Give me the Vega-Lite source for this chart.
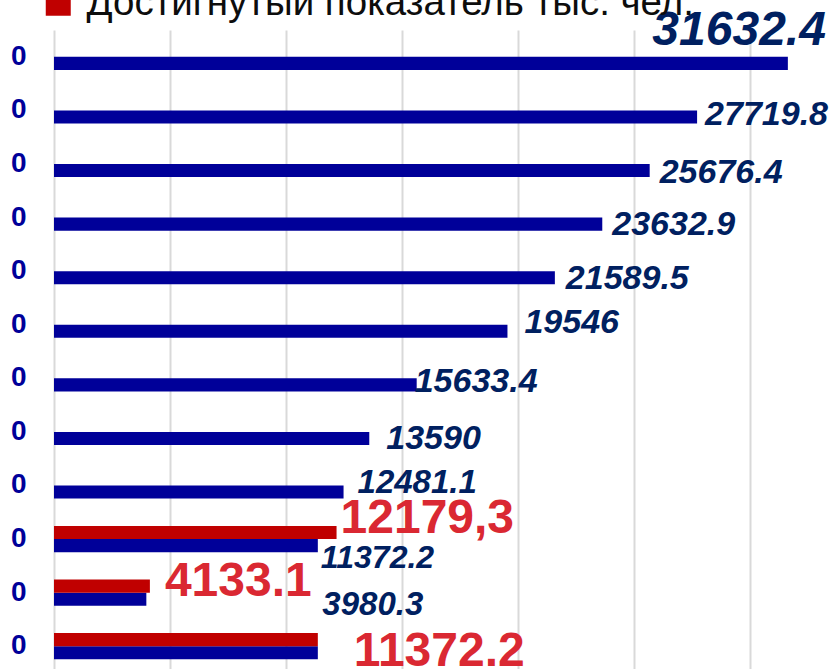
{
  "$schema": "https://vega.github.io/schema/vega-lite/v6.json",
  "autosize": {"type": "none"},
  "padding": {"left": 54, "top": 30, "right": 0, "bottom": 0},
  "width": 779,
  "height": 643,
  "background": "white",
  "config": {"view": {"stroke": null}},
  "data": {
    "values": [
      {"key": "b1", "row": 1, "series": "План", "value": 31632.4, "label": "31632.4"},
      {"key": "b2", "row": 2, "series": "План", "value": 27719.8, "label": "27719.8"},
      {"key": "b3", "row": 3, "series": "План", "value": 25676.4, "label": "25676.4"},
      {"key": "b4", "row": 4, "series": "План", "value": 23632.9, "label": "23632.9"},
      {"key": "b5", "row": 5, "series": "План", "value": 21589.5, "label": "21589.5"},
      {"key": "b6", "row": 6, "series": "План", "value": 19546, "label": "19546"},
      {"key": "b7", "row": 7, "series": "План", "value": 15633.4, "label": "15633.4"},
      {"key": "b8", "row": 8, "series": "План", "value": 13590, "label": "13590"},
      {"key": "b9", "row": 9, "series": "План", "value": 12481.1, "label": "12481.1"},
      {"key": "b10", "row": 10, "series": "План", "value": 11372.2, "label": "11372.2"},
      {"key": "b11", "row": 11, "series": "План", "value": 3980.3, "label": "3980.3"},
      {"key": "b12", "row": 12, "series": "План", "value": 11372.2, "label": "11372.2"},
      {"key": "r10", "row": 10, "series": "Достигнутый показатель тыс. чел.", "value": 12179.3, "label": "12179,3"},
      {"key": "r11", "row": 11, "series": "Достигнутый показатель тыс. чел.", "value": 4133.1, "label": "4133.1"},
      {"key": "r12", "row": 12, "series": "Достигнутый показатель тыс. чел.", "value": 11372.2, "label": "11372.2"}
    ]
  },
  "encoding": {
    "y": {
      "field": "row", "type": "ordinal",
      "scale": {"paddingInner": 0.509, "paddingOuter": 0.2545},
      "axis": {"title": null, "labelExpr": "'0'", "ticks": false, "domain": false, "grid": false,
               "labelFont": "Liberation Sans", "labelFontWeight": "bold", "labelFontSize": 28,
               "labelColor": "#000099", "labelPadding": 28}
    },
    "yOffset": {
      "field": "series", "type": "nominal",
      "scale": {"domain": ["Достигнутый показатель тыс. чел.", "План"], "paddingInner": 0}
    }
  },
  "layer": [
    {
      "mark": {"type": "bar"},
      "encoding": {
        "x": {
          "field": "value", "type": "quantitative",
          "scale": {"domain": [0, 33578], "nice": false, "zero": true},
          "axis": {"title": null, "labels": false, "ticks": false, "domain": false, "grid": true,
                   "values": [0, 5000, 10000, 15000, 20000, 25000, 30000],
                   "gridColor": "#d9d9d9", "gridWidth": 2}
        },
        "color": {
          "field": "series", "type": "nominal",
          "scale": {"domain": ["Достигнутый показатель тыс. чел.", "План"], "range": ["#C00000", "#000099"]},
          "legend": {
            "title": null, "orient": "none", "legendX": -15, "legendY": -46,
            "values": ["Достигнутый показатель тыс. чел."],
            "symbolType": "square", "symbolSize": 625, "symbolStrokeWidth": 0,
            "labelFont": "Liberation Sans", "labelFontSize": 38.5, "labelColor": "#0D0D0D",
            "labelOffset": 9, "labelLimit": 1000, "padding": 0
          }
        }
      }
    },
    {
      "transform": [{"filter": "datum.key == 'b1'"}],
      "mark": {"type": "text", "align": "right", "baseline": "middle", "dx": 38, "dy": -32, "fontSize": 48, "fontWeight": "bold", "fontStyle": "italic", "color": "#002060", "font": "Liberation Sans"},
      "encoding": {"x": {"field": "value", "type": "quantitative"}, "text": {"field": "label"}}
    },
    {
      "transform": [{"filter": "datum.key == 'b2'"}],
      "mark": {"type": "text", "align": "left", "baseline": "middle", "dx": 8, "dy": -2, "fontSize": 34, "fontWeight": "bold", "fontStyle": "italic", "color": "#002060", "font": "Liberation Sans"},
      "encoding": {"x": {"field": "value", "type": "quantitative"}, "text": {"field": "label"}}
    },
    {
      "transform": [{"filter": "datum.key == 'b3'"}],
      "mark": {"type": "text", "align": "left", "baseline": "middle", "dx": 10, "dy": 2, "fontSize": 34, "fontWeight": "bold", "fontStyle": "italic", "color": "#002060", "font": "Liberation Sans"},
      "encoding": {"x": {"field": "value", "type": "quantitative"}, "text": {"field": "label"}}
    },
    {
      "transform": [{"filter": "datum.key == 'b4'"}],
      "mark": {"type": "text", "align": "left", "baseline": "middle", "dx": 10, "dy": 1, "fontSize": 34, "fontWeight": "bold", "fontStyle": "italic", "color": "#002060", "font": "Liberation Sans"},
      "encoding": {"x": {"field": "value", "type": "quantitative"}, "text": {"field": "label"}}
    },
    {
      "transform": [{"filter": "datum.key == 'b5'"}],
      "mark": {"type": "text", "align": "left", "baseline": "middle", "dx": 11, "dy": 1, "fontSize": 34, "fontWeight": "bold", "fontStyle": "italic", "color": "#002060", "font": "Liberation Sans"},
      "encoding": {"x": {"field": "value", "type": "quantitative"}, "text": {"field": "label"}}
    },
    {
      "transform": [{"filter": "datum.key == 'b6'"}],
      "mark": {"type": "text", "align": "left", "baseline": "middle", "dx": 17, "dy": -8, "fontSize": 34, "fontWeight": "bold", "fontStyle": "italic", "color": "#002060", "font": "Liberation Sans"},
      "encoding": {"x": {"field": "value", "type": "quantitative"}, "text": {"field": "label"}}
    },
    {
      "transform": [{"filter": "datum.key == 'b7'"}],
      "mark": {"type": "text", "align": "left", "baseline": "middle", "dx": -2, "dy": -3, "fontSize": 34, "fontWeight": "bold", "fontStyle": "italic", "color": "#002060", "font": "Liberation Sans"},
      "encoding": {"x": {"field": "value", "type": "quantitative"}, "text": {"field": "label"}}
    },
    {
      "transform": [{"filter": "datum.key == 'b8'"}],
      "mark": {"type": "text", "align": "left", "baseline": "middle", "dx": 17, "dy": 1, "fontSize": 34, "fontWeight": "bold", "fontStyle": "italic", "color": "#002060", "font": "Liberation Sans"},
      "encoding": {"x": {"field": "value", "type": "quantitative"}, "text": {"field": "label"}}
    },
    {
      "transform": [{"filter": "datum.key == 'b9'"}],
      "mark": {"type": "text", "align": "left", "baseline": "middle", "dx": 14, "dy": -9, "fontSize": 33, "fontWeight": "bold", "fontStyle": "italic", "color": "#002060", "font": "Liberation Sans"},
      "encoding": {"x": {"field": "value", "type": "quantitative"}, "text": {"field": "label"}}
    },
    {
      "transform": [{"filter": "datum.key == 'b10'"}],
      "mark": {"type": "text", "align": "left", "baseline": "middle", "dx": 3, "dy": 12, "fontSize": 32, "fontWeight": "bold", "fontStyle": "italic", "color": "#002060", "font": "Liberation Sans"},
      "encoding": {"x": {"field": "value", "type": "quantitative"}, "text": {"field": "label"}}
    },
    {
      "transform": [{"filter": "datum.key == 'b11'"}],
      "mark": {"type": "text", "align": "left", "baseline": "middle", "dx": 176, "dy": 6, "fontSize": 33, "fontWeight": "bold", "fontStyle": "italic", "color": "#002060", "font": "Liberation Sans"},
      "encoding": {"x": {"field": "value", "type": "quantitative"}, "text": {"field": "label"}}
    },
    {
      "transform": [{"filter": "datum.key == 'r10'"}],
      "mark": {"type": "text", "align": "left", "baseline": "middle", "dx": 4, "dy": -13, "fontSize": 48, "fontWeight": "bold", "color": "#DA2832", "font": "Liberation Sans"},
      "encoding": {"x": {"field": "value", "type": "quantitative"}, "text": {"field": "label"}}
    },
    {
      "transform": [{"filter": "datum.key == 'r11'"}],
      "mark": {"type": "text", "align": "left", "baseline": "middle", "dx": 15, "dy": -4, "fontSize": 48, "fontWeight": "bold", "color": "#DA2832", "font": "Liberation Sans"},
      "encoding": {"x": {"field": "value", "type": "quantitative"}, "text": {"field": "label"}}
    },
    {
      "transform": [{"filter": "datum.key == 'r12'"}],
      "mark": {"type": "text", "align": "left", "baseline": "middle", "dx": 36, "dy": 12, "fontSize": 48, "fontWeight": "bold", "color": "#DA2832", "font": "Liberation Sans"},
      "encoding": {"x": {"field": "value", "type": "quantitative"}, "text": {"field": "label"}}
    }
  ]
}
